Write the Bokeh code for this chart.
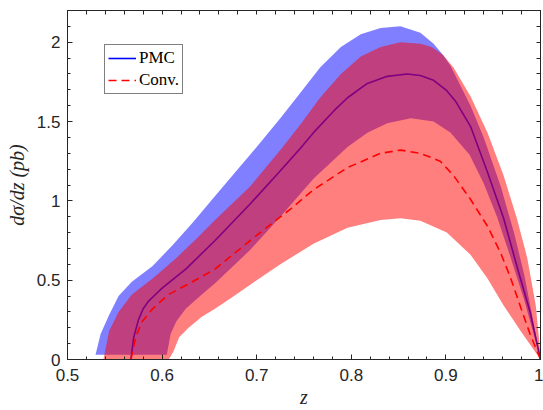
from bokeh.plotting import figure
from bokeh.models import Range1d, FixedTicker, LinearAxis, Legend, LegendItem
from bokeh.embed import file_html
from bokeh.resources import INLINE

# ---------------- data ----------------
# PMC central value (solid line)
pmc_z = [0.567, 0.570, 0.575, 0.580, 0.586, 0.593, 0.600, 0.625, 0.656, 0.693, 0.725,
         0.746, 0.760, 0.782, 0.796, 0.817, 0.838, 0.859, 0.873, 0.887, 0.900, 0.910,
         0.926, 0.944, 0.961, 0.975, 0.989, 1.000]
pmc_v = [0.00, 0.14, 0.25, 0.32, 0.37, 0.41, 0.45, 0.57, 0.75, 0.98, 1.19,
         1.33, 1.43, 1.57, 1.65, 1.74, 1.785, 1.80, 1.79, 1.76, 1.70, 1.63,
         1.47, 1.18, 0.89, 0.59, 0.30, 0.00]

# PMC band upper / lower edges
pmc_up_z = [0.5296, 0.535, 0.544, 0.554, 0.568, 0.590, 0.611, 0.632, 0.656, 0.693,
            0.725, 0.746, 0.767, 0.789, 0.810, 0.831, 0.852, 0.873, 0.887, 0.897,
            0.905, 0.915, 0.926, 0.940, 0.958, 0.972, 0.983, 0.993, 1.000]
pmc_up_v = [0.03, 0.16, 0.28, 0.40, 0.49, 0.59, 0.72, 0.86, 1.03, 1.29,
            1.52, 1.68, 1.84, 1.97, 2.05, 2.09, 2.10, 2.06, 1.99, 1.92,
            1.85, 1.73, 1.60, 1.40, 1.09, 0.80, 0.53, 0.22, 0.00]
pmc_lo_z = [0.5296, 0.605, 0.609, 0.615, 0.625, 0.642, 0.656, 0.693, 0.725, 0.760,
            0.796, 0.817, 0.838, 0.863, 0.887, 0.905, 0.925, 0.940, 0.954, 0.968,
            0.983, 1.000]
pmc_lo_v = [0.03, 0.03, 0.16, 0.24, 0.32, 0.41, 0.48, 0.69, 0.90, 1.14,
            1.34, 1.43, 1.49, 1.52, 1.50, 1.43, 1.29, 1.11, 0.90, 0.65,
            0.37, 0.00]

# Conventional central value (dashed line)
conv_z = [0.567, 0.572, 0.579, 0.590, 0.607, 0.632, 0.656, 0.693, 0.736, 0.760,
          0.796, 0.831, 0.852, 0.873, 0.894, 0.908, 0.926, 0.944, 0.958, 0.968,
          0.979, 0.989, 1.000]
conv_v = [0.00, 0.14, 0.24, 0.32, 0.41, 0.49, 0.57, 0.75, 0.95, 1.07,
          1.21, 1.30, 1.32, 1.30, 1.25, 1.16, 1.01, 0.84, 0.67, 0.52,
          0.33, 0.16, 0.00]

# Conventional band upper / lower edges
conv_up_z = [0.538, 0.539, 0.544, 0.554, 0.568, 0.590, 0.615, 0.636, 0.656, 0.693,
             0.725, 0.746, 0.767, 0.789, 0.810, 0.831, 0.852, 0.873, 0.885, 0.897,
             0.908, 0.926, 0.944, 0.961, 0.975, 0.986, 0.995, 1.000]
conv_up_v = [0.00, 0.03, 0.18, 0.30, 0.41, 0.51, 0.64, 0.76, 0.88, 1.09,
             1.32, 1.48, 1.65, 1.80, 1.91, 1.97, 2.00, 1.99, 1.97, 1.92,
             1.84, 1.66, 1.43, 1.16, 0.89, 0.64, 0.34, 0.03]
conv_lo_z = [0.538, 0.607, 0.612, 0.618, 0.628, 0.642, 0.656, 0.676, 0.700, 0.725,
             0.760, 0.796, 0.831, 0.852, 0.873, 0.901, 0.926, 0.944, 0.961, 0.979,
             1.000]
conv_lo_v = [0.00, 0.00, 0.05, 0.14, 0.20, 0.27, 0.32, 0.40, 0.50, 0.60,
             0.73, 0.83, 0.88, 0.89, 0.875, 0.80, 0.66, 0.51, 0.34, 0.18,
             0.00]

x_ticks = [0.5, 0.6, 0.7, 0.8, 0.9, 1.0]
x_tick_labels = ["0.5", "0.6", "0.7", "0.8", "0.9", "1"]
y_ticks = [0, 0.5, 1, 1.5, 2]
y_tick_labels = ["0", "0.5", "1", "1.5", "2"]
x_minor = [round(0.5 + 0.02 * i, 4) for i in range(26)]
y_minor = [round(0.1 * i, 4) for i in range(23)]

series_names = ["PMC", "Conv."]
x_title = "z"
y_title = "dσ/dz (pb)"

# ---------------- figure ----------------
TXT = "#262626"
p = figure(width=543, height=410, output_backend="svg", toolbar_location=None,
           x_range=Range1d(0.5, 1.0), y_range=Range1d(0, 2.2),
           min_border_left=67, min_border_right=3, min_border_top=10,
           min_border_bottom=48)
p.background_fill_color = "white"
p.border_fill_color = "white"
p.outline_line_color = TXT
p.outline_line_width = 1
p.xgrid.visible = False
p.ygrid.visible = False


def style_axis(ax):
    ax.major_tick_in = 5
    ax.major_tick_out = 0
    ax.minor_tick_in = 3
    ax.minor_tick_out = 0
    ax.major_tick_line_color = TXT
    ax.minor_tick_line_color = TXT
    ax.axis_line_color = TXT
    ax.major_label_text_font = "Liberation Sans"
    ax.major_label_text_font_size = "17px"
    ax.major_label_text_color = TXT
    ax.axis_label_text_font = "Liberation Serif"
    ax.axis_label_text_font_style = "italic"
    ax.axis_label_text_font_size = "20px"
    ax.axis_label_text_color = TXT


xa = p.xaxis[0]
ya = p.yaxis[0]
style_axis(xa)
style_axis(ya)
xa.ticker = FixedTicker(ticks=x_ticks, minor_ticks=x_minor)
xa.major_label_overrides = dict(zip(x_ticks, x_tick_labels))
ya.ticker = FixedTicker(ticks=y_ticks, minor_ticks=y_minor)
ya.major_label_overrides = dict(zip(y_ticks, y_tick_labels))
xa.major_label_standoff = 9
ya.major_label_standoff = 7
xa.axis_label = x_title
xa.axis_label_standoff = 2
ya.axis_label = y_title
ya.axis_label_standoff = 6

# tick marks on the top and right edges (no labels)
top_ax = LinearAxis(ticker=FixedTicker(ticks=[], minor_ticks=x_minor))
right_ax = LinearAxis(ticker=FixedTicker(ticks=[], minor_ticks=y_minor))
for ax in (top_ax, right_ax):
    style_axis(ax)
    ax.minor_tick_in = 4
p.add_layout(top_ax, "above")
p.add_layout(right_ax, "right")

# bands and lines
pmc_band = p.patch(pmc_up_z + pmc_lo_z[::-1], pmc_up_v + pmc_lo_v[::-1],
                   fill_color="#0000FF", fill_alpha=0.5, line_color=None)
pmc_line = p.line(pmc_z, pmc_v, line_color="#0000FF", line_width=1.6)
conv_band = p.patch(conv_up_z + conv_lo_z[::-1], conv_up_v + conv_lo_v[::-1],
                    fill_color="#FF0000", fill_alpha=0.5, line_color=None)
conv_line = p.line(conv_z, conv_v, line_color="#FF0000", line_width=1.6,
                   line_dash="8 5")

legend = Legend(items=[LegendItem(label=series_names[0], renderers=[pmc_line]),
                       LegendItem(label=series_names[1], renderers=[conv_line])],
                location=(37, 265))
legend.label_text_font = "Liberation Serif"
legend.label_text_font_size = "17px"
legend.label_text_color = "black"
legend.border_line_color = "black"
legend.border_line_width = 1
legend.background_fill_color = "white"
legend.background_fill_alpha = 1
legend.glyph_width = 28
legend.glyph_height = 20
legend.label_height = 20
legend.label_standoff = 3
legend.padding = 3
legend.spacing = 2
legend.margin = 0
p.add_layout(legend, "center")

open("out.html", "w").write(file_html(p, INLINE))
